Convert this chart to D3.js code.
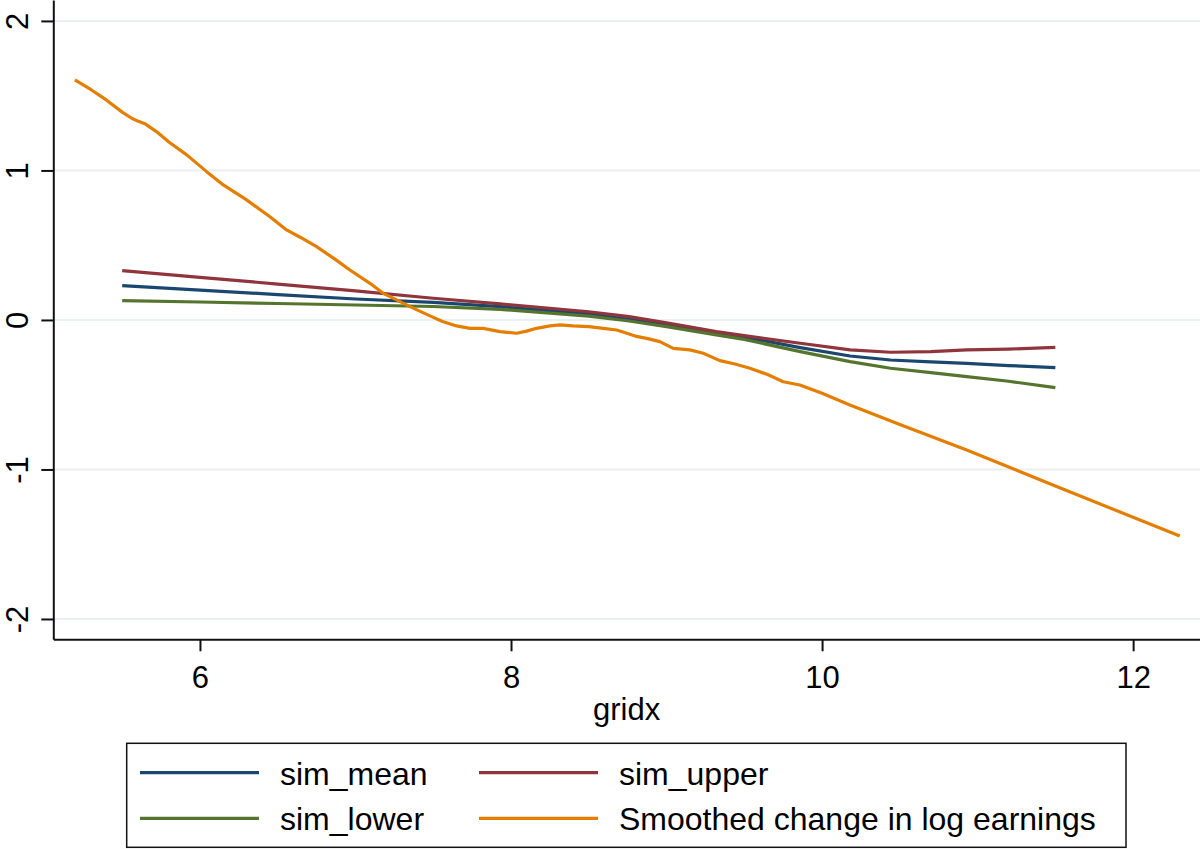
<!DOCTYPE html>
<html>
<head>
<meta charset="utf-8">
<script src="https://cdn.jsdelivr.net/npm/d3@7"></script>
<style>
  html, body { margin: 0; padding: 0; background: #fff; }
  svg { display: block; font-family: "Liberation Sans", Arial, Helvetica, sans-serif; }
</style>
</head>
<body>
<svg id="chart" width="1200" height="849"></svg>
<script>
// ---- Data ----
const simX     = [5.5, 6.0, 6.5, 7.0, 7.5, 7.93, 8.5, 8.76, 9.0, 9.32, 9.5, 9.86, 10.18, 10.44, 10.7, 10.93, 11.2, 11.5];
const simMean  = [0.229, 0.200, 0.170, 0.140, 0.117, 0.089, 0.040, 0.004, -0.035, -0.090, -0.115, -0.185, -0.241, -0.268, -0.280, -0.290, -0.305, -0.319];
const simUpper = [0.330, 0.285, 0.240, 0.195, 0.145, 0.107, 0.055, 0.022, -0.020, -0.078, -0.105, -0.156, -0.200, -0.216, -0.212, -0.200, -0.195, -0.183];
const simLower = [0.129, 0.120, 0.110, 0.100, 0.090, 0.071, 0.025, -0.007, -0.045, -0.100, -0.130, -0.212, -0.279, -0.323, -0.352, -0.379, -0.410, -0.453];

const smoothX = [5.196, 5.30, 5.40, 5.50, 5.561, 5.60, 5.65, 5.72, 5.80, 5.915, 6.043, 6.15, 6.30, 6.45, 6.557, 6.65, 6.75, 6.87, 6.964, 7.093,
                 7.178, 7.265, 7.35, 7.479, 7.56, 7.65, 7.736, 7.821, 7.929, 8.036, 8.10, 8.165, 8.25, 8.314, 8.40, 8.50, 8.593, 8.679, 8.75, 8.807,
                 8.88, 8.957, 9.043, 9.15, 9.236, 9.343, 9.44, 9.536, 9.65, 9.75, 9.857, 10.0, 10.179, 10.5, 10.93, 11.5, 12.0, 12.30];
const smoothY = [1.605, 1.54, 1.47, 1.39, 1.349, 1.33, 1.31, 1.26, 1.19, 1.104, 0.992, 0.903, 0.803, 0.69, 0.602, 0.55, 0.49, 0.405, 0.334, 0.245,
                 0.178, 0.134, 0.089, 0.027, -0.010, -0.040, -0.056, -0.056, -0.078, -0.089, -0.075, -0.056, -0.040, -0.033, -0.040, -0.045, -0.056, -0.067, -0.090, -0.110,
                 -0.125, -0.145, -0.190, -0.200, -0.223, -0.272, -0.295, -0.323, -0.365, -0.413, -0.435, -0.490, -0.569, -0.700, -0.870, -1.110, -1.320, -1.445];

const xTicks = [6, 8, 10, 12];
const yTicks = [-2, -1, 0, 1, 2];

const seriesNames  = ["sim_mean", "sim_upper", "sim_lower", "Smoothed change in log earnings"];
const seriesColors = ["#1a476f", "#90353b", "#55752f", "#e37e00"];

// ---- Layout ----
const svg = d3.select("#chart");
const plotLeft = 53.3, plotRight = 1200, plotTop = 0, plotBottom = 639.3;

const x = d3.scaleLinear().domain([5.057, 12.43]).range([plotLeft, plotRight]);
const y = d3.scaleLinear().domain([-2.136, 2.14]).range([plotBottom, plotTop]);

// gridlines
svg.append("g").selectAll("line").data(yTicks).join("line")
  .attr("x1", plotLeft).attr("x2", plotRight)
  .attr("y1", d => y(d)).attr("y2", d => y(d))
  .attr("stroke", "#e8f0f2").attr("stroke-width", 2);

// series
const line = d3.line().x(d => x(d[0])).y(d => y(d[1]));
const seriesData = [
  d3.zip(simX, simMean),
  d3.zip(simX, simUpper),
  d3.zip(simX, simLower),
  d3.zip(smoothX, smoothY)
];
svg.append("g").selectAll("path").data(seriesData).join("path")
  .attr("d", line)
  .attr("fill", "none")
  .attr("stroke", (d, i) => seriesColors[i])
  .attr("stroke-width", 3.2)
  .attr("stroke-linejoin", "round");

// axes
const xAxis = svg.append("g").attr("transform", `translate(0,${plotBottom})`)
  .call(d3.axisBottom(x).tickValues(xTicks).tickSize(12).tickSizeOuter(0).tickPadding(12).tickFormat(d3.format("d")));
const yAxis = svg.append("g").attr("transform", `translate(${plotLeft},0)`)
  .call(d3.axisLeft(y).tickValues(yTicks).tickSize(12).tickSizeOuter(0).tickFormat(d => d < 0 ? "-" + Math.abs(d) : String(d)));

[xAxis, yAxis].forEach(a => {
  a.select(".domain").attr("stroke", "#111").attr("stroke-width", 2);
  a.selectAll(".tick line").attr("stroke", "#111").attr("stroke-width", 2);
  a.selectAll("text").attr("fill", "#000").style("font-size", "31px")
    .style("font-family", "'Liberation Sans', Arial, Helvetica, sans-serif");
});
xAxis.selectAll("text").attr("y", null).attr("dy", null).attr("transform", null)
  .attr("y", 48.7);
yAxis.selectAll("text")
  .attr("x", null).attr("dy", null)
  .attr("text-anchor", "middle")
  .attr("transform", "translate(-25.3,0) rotate(-90)");

// x axis title
svg.append("text").attr("x", (plotLeft + plotRight) / 2).attr("y", 720)
  .attr("text-anchor", "middle").style("font-size", "31px").attr("fill", "#000")
  .text("gridx");

// legend
const legend = svg.append("g");
legend.append("rect").attr("x", 126.7).attr("y", 743.3).attr("width", 999.3).attr("height", 104)
  .attr("fill", "#fff").attr("stroke", "#111").attr("stroke-width", 1.5);
const legCols = [140, 479];
const legRows = [772.7, 818.3];
seriesNames.forEach((name, i) => {
  const cx = legCols[i % 2], cy = legRows[Math.floor(i / 2)];
  legend.append("line").attr("x1", cx).attr("x2", cx + 119).attr("y1", cy).attr("y2", cy)
    .attr("stroke", seriesColors[i]).attr("stroke-width", 3.2);
  legend.append("text").attr("x", cx + 140).attr("y", cy + 12)
    .style("font-size", "32px").attr("fill", "#000").text(name);
});
</script>
</body>
</html>
